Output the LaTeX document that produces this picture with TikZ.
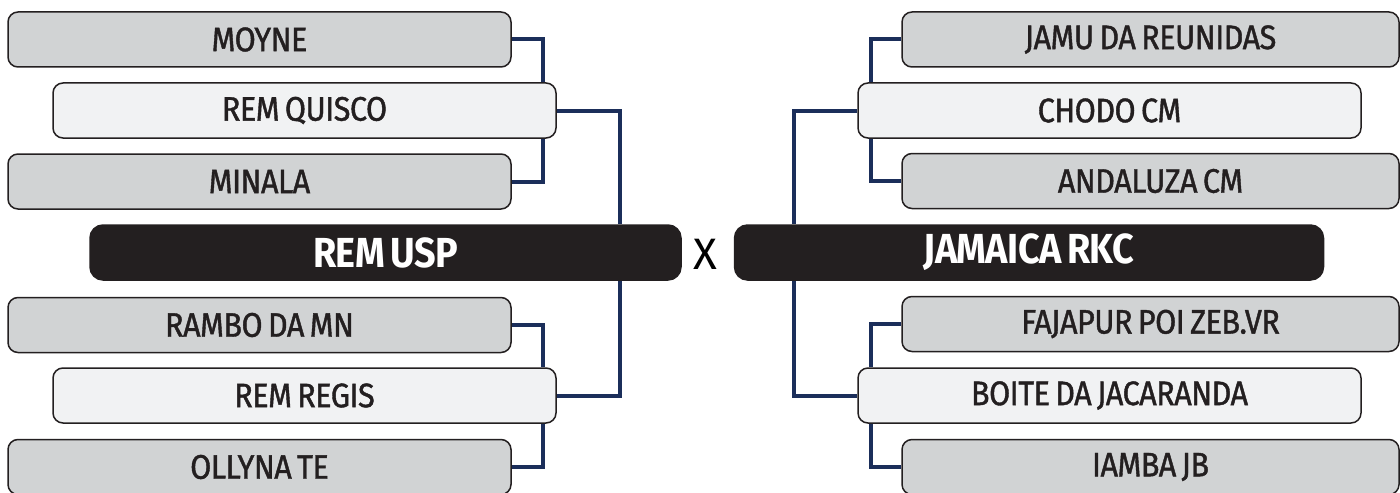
\documentclass[tikz,border=0pt]{standalone}
\usepackage{fontspec}
\setmainfont{Fira Sans}
\newfontfamily\teamfont[FakeStretch=0.9, FakeBold=1.2, LetterSpace=-1.5, WordSpace=0.7]{Fira Sans}
\newfontfamily\finalfont[FakeStretch=0.9, LetterSpace=-1.5, WordSpace=0.7]{Fira Sans Bold}
\usetikzlibrary{backgrounds}
\definecolor{boxgray}{HTML}{D1D3D4}
\definecolor{boxlight}{HTML}{F1F2F3}
\definecolor{ink}{HTML}{231F20}
\definecolor{navy}{HTML}{1B2E5A}
\tikzset{
  team/.style={draw=ink, line width=0.75pt, rounded corners=5pt, minimum height=27.5pt,
     inner sep=0pt, text=ink, font=\teamfont\fontsize{17}{20}\selectfont},
  graybox/.style={team, fill=boxgray, minimum width=251.5pt},
  lightbox/.style={team, fill=boxlight, minimum width=251.5pt},
  finalbox/.style={draw=ink, fill=ink, line width=0.75pt, rounded corners=6.5pt, minimum height=27.5pt,
     inner sep=0pt, text=white, font=\finalfont\fontsize{21}{24}\selectfont},
  conn/.style={draw=navy, line width=2pt},
  vs/.style={text=black, inner sep=0pt, font=\fontsize{22}{25}\selectfont}
}
\begin{document}
\begin{tikzpicture}[x=0.5pt,y=-0.5pt]
\useasboundingbox (0,0) rectangle (1400,492);
% left bracket
\node[graybox]  (moyne)  at (259.5,39.5)  {MOYNE};
\node[lightbox] (quisco) at (304.5,110.5) {REM QUISCO};
\node[graybox]  (minala) at (259.5,181.5) {MINALA};
\node[finalbox, minimum width=295.5pt] (usp) at (385.5,252.5) {REM USP};
\node[graybox]  (rambo)  at (259.5,325)   {RAMBO DA MN};
\node[lightbox] (regis)  at (304.5,395.5) {REM REGIS};
\node[graybox]  (ollyna) at (259.5,467)   {OLLYNA TE};
% right bracket
\node[graybox, minimum width=248.5pt]  (jamu)   at (1150.5,39.5)  {JAMU DA REUNIDAS};
\node[lightbox] (chodo)  at (1109.5,110.5) {CHODO CM};
\node[graybox, minimum width=248.5pt]  (anda)   at (1150.5,181)   {ANDALUZA CM};
\node[finalbox, minimum width=294.5pt] (jam) at (1029,252.5) {JAMAICA RKC};
\node[graybox, minimum width=248.5pt]  (faja)   at (1150.5,324)   {FAJAPUR POI ZEB.VR};
\node[lightbox] (boite)  at (1109.5,395.5) {BOITE DA JACARANDA};
\node[graybox, minimum width=248.5pt]  (iamba)  at (1150.5,467)   {IAMBA JB};
\node[vs] (x) at (705,254) {X};
% connector columns
\coordinate (lA) at (543,0);
\coordinate (lB) at (620,0);
\coordinate (rA) at (871,0);
\coordinate (rB) at (794,0);
\begin{scope}[on background layer]
\draw[conn] (moyne.east) -| (quisco.north -| lA);
\draw[conn] (minala.east) -| (quisco.south -| lA);
\draw[conn] (quisco.east) -| (usp.north -| lB);
\draw[conn] (rambo.east) -| (regis.north -| lA);
\draw[conn] (ollyna.east) -| (regis.south -| lA);
\draw[conn] (usp.south -| lB) |- (regis.east);
\draw[conn] (jamu.west) -| (chodo.north -| rA);
\draw[conn] (anda.west) -| (chodo.south -| rA);
\draw[conn] (chodo.west) -| (jam.north -| rB);
\draw[conn] (faja.west) -| (boite.north -| rA);
\draw[conn] (iamba.west) -| (boite.south -| rA);
\draw[conn] (jam.south -| rB) |- (boite.west);
\end{scope}
\end{tikzpicture}
\end{document}
